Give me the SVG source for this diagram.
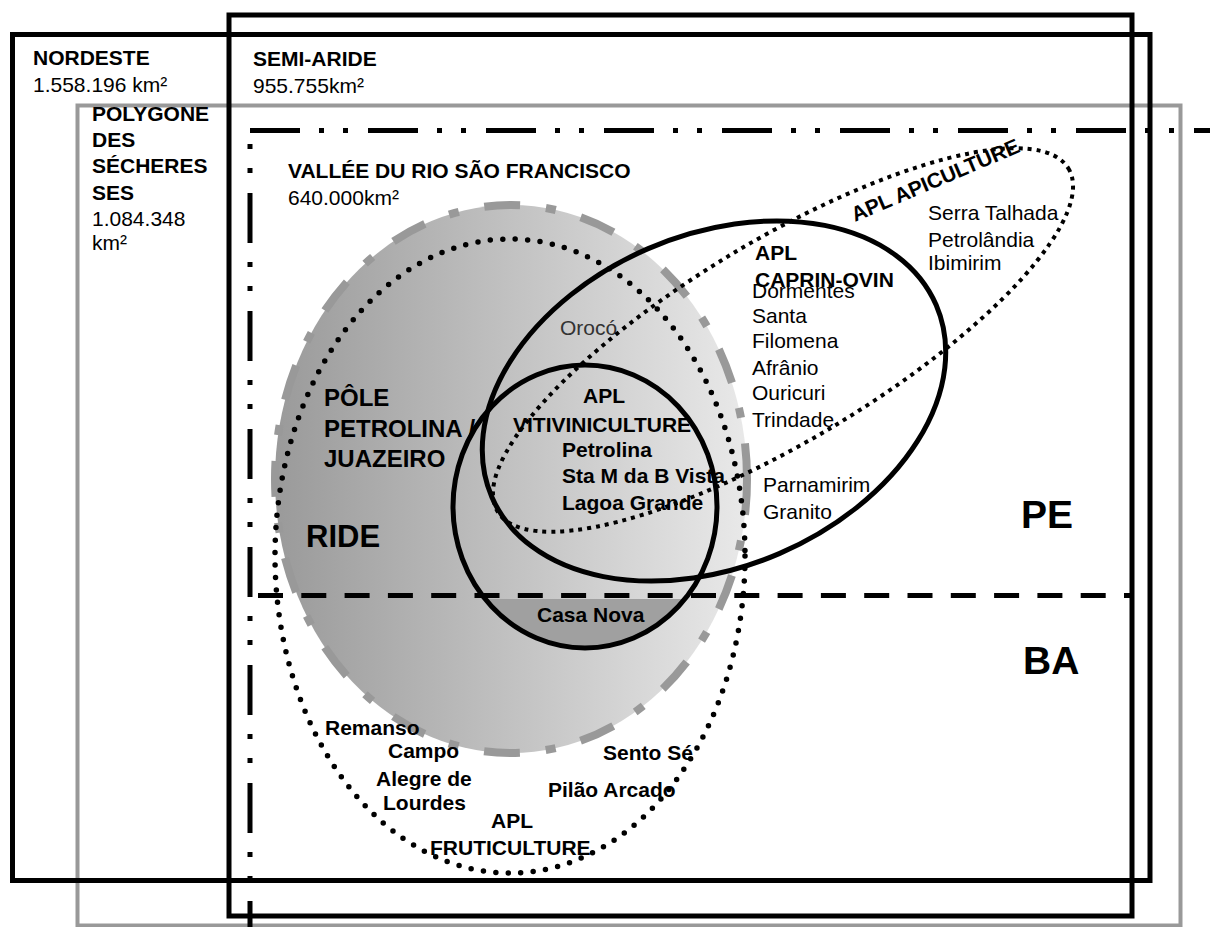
<svg xmlns="http://www.w3.org/2000/svg" width="1210" height="927" viewBox="0 0 1210 927">
<style>
text{font-family:"Liberation Sans",Arial,sans-serif;font-size:21px;fill:#000}
.b{font-weight:bold}
.pole{font-size:24px}
.frame{fill:none;stroke:#000;stroke-width:5}
.gframe{fill:none;stroke:#999;stroke-width:4}
.solid{fill:none;stroke:#000;stroke-width:5}
.dots{fill:none;stroke:#000;stroke-width:5.5;stroke-linecap:round;stroke-dasharray:0 12.5}
.sq{fill:none;stroke:#000;stroke-width:4;stroke-dasharray:4 5}
.dashdot{stroke:#000;stroke-width:5;stroke-dasharray:50 19 5 19 5 20}
</style>
<defs>
<linearGradient id="rideGrad" x1="0" y1="0" x2="1" y2="0">
<stop offset="0" stop-color="#9a9a9a"/>
<stop offset="1" stop-color="#e9e9e9"/>
</linearGradient>
<clipPath id="baClip"><rect x="0" y="599" width="1210" height="100"/></clipPath>
</defs>
<rect width="1210" height="927" fill="#fff"/>

<g id="polygone"><rect class="gframe" x="77.5" y="105.5" width="1103" height="820"/></g>
<g id="nordeste"><rect class="frame" x="12.5" y="34.5" width="1137.5" height="846"/></g>
<g id="semi-aride"><rect class="frame" x="229" y="15" width="903" height="901"/></g>

<g id="vallee-border">
<line class="dashdot" x1="250" y1="130.5" x2="1210" y2="130.5"/>
<line class="dashdot" x1="250" y1="130" x2="250" y2="927" stroke-dashoffset="55"/>
</g>

<g id="ride">
<ellipse cx="511" cy="479" rx="236" ry="274" fill="url(#rideGrad)" stroke="#999" stroke-width="8" stroke-dasharray="36 26 10 26"/>
</g>
<g id="casa-nova-area">
<ellipse cx="585" cy="506.5" rx="132" ry="141.5" fill="#a0a0a0" clip-path="url(#baClip)"/>
</g>

<g id="labels">
<text class="b" x="33" y="65">NORDESTE</text>
<text x="33" y="92">1.558.196 km²</text>
<text class="b" x="253" y="66">SEMI-ARIDE</text>
<text x="253" y="93">955.755km²</text>
<text class="b" x="92" y="120.5">POLYGONE</text>
<text class="b" x="92" y="147">DES</text>
<text class="b" x="92" y="172.5">SÉCHERES</text>
<text class="b" x="92" y="200">SES</text>
<text x="92" y="226">1.084.348</text>
<text x="92" y="250">km²</text>
<text class="b" x="288" y="178">VALLÉE DU RIO SÃO FRANCISCO</text>
<text x="288" y="205">640.000km²</text>
<text class="b" transform="rotate(-23 855 222)" x="855" y="222">APL APICULTURE</text>
<text x="928" y="220">Serra Talhada</text>
<text x="928" y="247">Petrolândia</text>
<text x="928" y="270">Ibimirim</text>
<text x="752" y="298">Dormentes</text>
<text class="b" x="755" y="260">APL</text>
<text class="b" x="755" y="287">CAPRIN-OVIN</text>
<text x="752" y="323">Santa</text>
<text x="752" y="348">Filomena</text>
<text x="752" y="375">Afrânio</text>
<text x="752" y="400">Ouricuri</text>
<text x="752" y="427">Trindade</text>
<text x="763" y="492">Parnamirim</text>
<text x="763" y="519">Granito</text>
<text class="b" x="1021" y="528" style="font-size:39px">PE</text>
<text class="b" x="1023" y="674" style="font-size:39px">BA</text>
<text x="560" y="335" style="fill:#333">Orocó</text>
<text class="b pole" x="324" y="406">PÔLE</text>
<text class="b pole" x="324" y="437">PETROLINA /</text>
<text class="b pole" x="324" y="467">JUAZEIRO</text>
<text class="b" x="306" y="547" style="font-size:31px">RIDE</text>
<text class="b" x="604" y="403" text-anchor="middle">APL</text>
<text class="b" x="513" y="432">VITIVINICULTURE</text>
<text class="b" x="562" y="457">Petrolina</text>
<text class="b" x="562" y="483">Sta M da B Vista</text>
<text class="b" x="562" y="510">Lagoa Grande</text>
<text class="b" x="537" y="622">Casa Nova</text>
<text class="b" x="325" y="735">Remanso</text>
<text class="b" x="388" y="758">Campo</text>
<text class="b" x="376" y="786">Alegre de</text>
<text class="b" x="383" y="810">Lourdes</text>
<text class="b" x="491" y="828">APL</text>
<text class="b" x="430" y="855">FRUTICULTURE</text>
<text class="b" x="603" y="760">Sento Sé</text>
<text class="b" x="548" y="797">Pilão Arcado</text>
</g>

<g id="connectors">
<line x1="258" y1="595.5" x2="1130" y2="595.5" stroke="#000" stroke-width="5" stroke-dasharray="25 18.3"/>
<ellipse id="apl-fruticulture" class="dots" cx="510" cy="556" rx="235" ry="317"/>
<ellipse id="apl-vitiviniculture" class="solid" cx="585" cy="506.5" rx="132" ry="141.5"/>
<ellipse id="apl-caprin-ovin" class="solid" cx="714" cy="401" rx="242" ry="166" transform="rotate(-23.35 714 401)"/>
<ellipse id="apl-apiculture" class="sq" cx="783" cy="340" rx="333" ry="100" transform="rotate(-31 783 340)"/>
</g>
</svg>
